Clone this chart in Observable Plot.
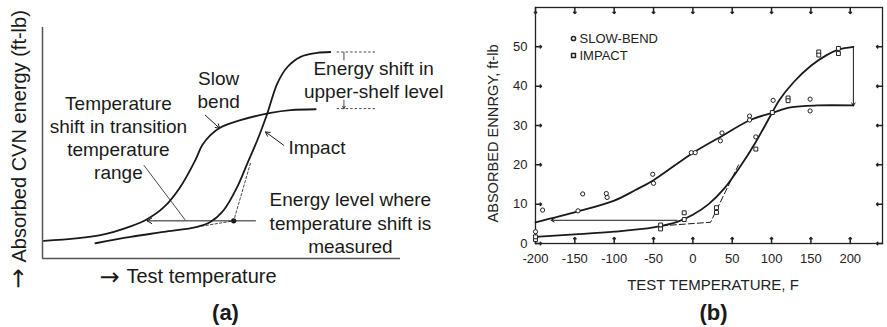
<!DOCTYPE html>
<html><head><meta charset="utf-8">
<script src="https://cdn.jsdelivr.net/npm/d3@7"></script>
<script src="https://cdn.jsdelivr.net/npm/@observablehq/plot@0.6"></script>
<style>
html,body{margin:0;padding:0;background:#fff;}
#wrap{position:relative;width:887px;height:327px;overflow:hidden;font-family:"Liberation Sans",Arial,sans-serif;}
#a,#b{position:absolute;top:0;}
#a{left:0;} #b{left:460px;}
svg{overflow:visible;}
</style></head><body>
<div id="wrap"><div id="a"></div><div id="b"></div></div>
<script>
// ---------- Panel (a): schematic (arbitrary units 0–100) ----------
const aSlowX   = [0.4, 16.2, 24.6, 29.2, 33.9, 38.5, 42.7, 44.6, 46.9, 49.7, 55.3, 63.7, 69.3, 76.3];
const aSlowY   = [7.6, 10.1, 13.9, 17.0, 22.2, 31.0, 42.6, 49.0, 53.4, 56.7, 59.9, 63.0, 64.2, 64.6];
const aImpactX = [14.8, 24.6, 33.9, 43.2, 46.9, 50.6, 54.4, 57.2, 60.0, 62.8, 65.6, 68.4, 72.1, 76.7, 80.4];
const aImpactY = [6.6, 9.4, 11.5, 13.7, 15.8, 20.9, 31.0, 41.1, 51.2, 62.8, 75.8, 82.9, 87.3, 89.0, 89.4];
const aTangentX = [43.2, 53.4, 58.1];
const aTangentY = [13.7, 16.3, 41.3];
const aMeasureX = [53.4];           // energy level point
const aMeasureY = [16.3];
const aShiftFromX = 59.5, aShiftToX = 29.2, aShiftY = 16.3;
const aShelfX = [82.3, 93.0];
const aShelfY = [89.4, 64.9];
const aLabelText = ["Slow\nbend", "Temperature\nshift in transition\ntemperature\nrange", "Impact",
                    "Energy shift in\nupper-shelf level", "Energy level where\ntemperature shift is\nmeasured"];
const aLabelX = [49.2, 21.2, 68.7, 92.5, 86.0];
const aLabelY = [73.5, 52.5, 47.7, 77.8, 15.7];
const aLabelAnchor = ["middle", "middle", "start", "middle", "middle"];
const aPointers = [ // from label to curve
  {x1: 45.5, y1: 62.0, x2: 49.5, y2: 56.3},
  {x1: 67.4, y1: 49.0, x2: 62.3, y2: 54.8}
];
const aLeader = [{x1: 28.3, y1: 40.4, x2: 39.9, y2: 16.6}];
const aAxisArrow = "→";
const aXLabel = "Test temperature";
const aYLabel = "Absorbed CVN energy (ft-lb)";
const aTag = "(a)";

// ---------- Panel (b): measured data ----------
const bSlowCurveT   = [-200, -147, -100, -73, -50, -1, 35, 73, 102, 124, 158, 204];
const bSlowCurveE   = [5.4, 8.1, 10.9, 13.6, 16.1, 22.9, 27.1, 31.4, 33.3, 34.6, 35.1, 35.1];
const bImpactCurveT = [-200, -150, -100, -50, -20, 0, 20, 40, 60, 80, 100, 110, 128, 150, 170, 185, 204];
const bImpactCurveE = [1.7, 2.3, 3.0, 4.1, 5.5, 7.3, 10.0, 14.0, 19.5, 25.8, 33.0, 36.5, 41.0, 45.2, 47.9, 49.3, 50.0];
const bDashT = [-40, 22.5, 58];
const bDashE = [4.5, 5.4, 20];
const bSlowT = [-200, -191, -146, -140, -110, -109, -51, -50, -2, 3, 37, 35, 72, 72, 80, 102, 149, 149];
const bSlowE = [3.0, 8.5, 8.3, 12.6, 12.7, 11.7, 17.6, 15.3, 23.1, 23.1, 28.1, 26.1, 32.4, 31.4, 27.1, 36.4, 36.7, 33.7];
const bImpactT = [-200, -200, -41, -41, -11, -11, 30, 30, 80, 101, 121, 121, 160, 160, 185, 185];
const bImpactE = [1.0, 1.7, 4.7, 3.7, 7.8, 6.1, 9.1, 7.9, 24.0, 33.3, 37.0, 36.3, 48.7, 47.9, 49.6, 48.3];
const bTempShift  = {t1: -20, t2: -180, e: 5.9};
const bShelfShift = {t: 204, e1: 50, e2: 35};
const bXTicks = [-200, -150, -100, -50, 0, 50, 100, 150, 200];
const bYTicks = [0, 10, 20, 30, 40, 50];
const bLegend = ["SLOW-BEND", "IMPACT"];
const bXLabel = "TEST TEMPERATURE, F";
const bYLabel = "ABSORBED ENNRGY, ft-lb";
const bTag = "(b)";

const FONT = "'Liberation Sans', Arial, Helvetica, sans-serif";
const ARROWFONT = "'DejaVu Sans', sans-serif";
const INK = "#1a1a1a";
const zip = (xs, ys) => xs.map((x, i) => ({x, y: ys[i]}));

// ---------- build panel (a) ----------
const aLabels = aLabelText.map((t, i) => ({t, x: aLabelX[i], y: aLabelY[i], a: aLabelAnchor[i]}));
const plotA = Plot.plot({
  width: 460, height: 327,
  marginLeft: 42, marginRight: 60, marginTop: 27, marginBottom: 69,
  x: {domain: [0, 100], axis: null},
  y: {domain: [0, 100], axis: null},
  style: {fontFamily: FONT, background: "transparent", overflow: "visible", color: INK},
  marks: [
    Plot.ruleX([0], {stroke: "#555", strokeWidth: 1.5}),
    Plot.ruleY([0], {stroke: "#555", strokeWidth: 1.5}),
    Plot.line(zip(aTangentX, aTangentY), {x: "x", y: "y", stroke: INK, strokeWidth: 0.8, strokeDasharray: "2.5,2"}),
    Plot.line(zip(aSlowX, aSlowY), {x: "x", y: "y", curve: "catmull-rom", stroke: INK, strokeWidth: 1.8}),
    Plot.line(zip(aImpactX, aImpactY), {x: "x", y: "y", curve: "catmull-rom", stroke: INK, strokeWidth: 1.8}),
    Plot.arrow([{x1: aShiftFromX, x2: aShiftToX, y: aShiftY}], {x1: "x1", x2: "x2", y1: "y", y2: "y", stroke: INK, strokeWidth: 1, headLength: 8}),
    Plot.dot(zip(aMeasureX, aMeasureY), {x: "x", y: "y", r: 2.6, fill: INK, stroke: null}),
    Plot.link(aLeader, {x1: "x1", y1: "y1", x2: "x2", y2: "y2", stroke: INK, strokeWidth: 0.8}),
    Plot.arrow(aPointers, {x1: "x1", y1: "y1", x2: "x2", y2: "y2", stroke: INK, strokeWidth: 1, headLength: 7}),
    Plot.ruleY(aShelfY, {x1: aShelfX[0], x2: aShelfX[1], y: d => d, stroke: INK, strokeWidth: 0.8, strokeDasharray: "2.5,2"}),
    Plot.link([{x: 84.2, y1: aShelfY[0], y2: 85.8}], {x1: "x", x2: "x", y1: "y1", y2: "y2", stroke: INK, strokeWidth: 0.8}),
    Plot.arrow([{x: 84.2, y1: 68.6, y2: aShelfY[1]}], {x1: "x", x2: "x", y1: "y1", y2: "y2", stroke: INK, strokeWidth: 0.8, headLength: 5}),
    Plot.text(aLabels.filter(d => d.a === "middle"), {x: "x", y: "y", text: "t", textAnchor: "middle", fontSize: 19, lineHeight: 1.22, fill: INK}),
    Plot.text(aLabels.filter(d => d.a === "start"), {x: "x", y: "y", text: "t", textAnchor: "start", fontSize: 19, fill: INK}),
    // x-axis label: arrow + text
    Plot.text([aAxisArrow], {text: d => d, frameAnchor: "bottom-left", lineAnchor: "middle", textAnchor: "start", dx: 57, dy: 19, fontSize: 24, fontFamily: ARROWFONT, fill: INK}),
    Plot.text([aXLabel], {text: d => d, frameAnchor: "bottom-left", lineAnchor: "middle", textAnchor: "start", dx: 84, dy: 18, fontSize: 20, fill: INK}),
    // y-axis label: arrow + text, rotated
    Plot.text([aAxisArrow], {text: d => d, frameAnchor: "bottom-left", lineAnchor: "middle", textAnchor: "start", rotate: -90, dx: -24, dy: 30, fontSize: 24, fontFamily: ARROWFONT, fill: INK}),
    Plot.text([aYLabel], {text: d => d, frameAnchor: "bottom-left", lineAnchor: "middle", textAnchor: "start", rotate: -90, dx: -23, dy: 4, fontSize: 20, fill: INK}),
    Plot.text([aTag], {text: d => d, frameAnchor: "bottom", lineAnchor: "middle", textAnchor: "middle", dx: 4, dy: 54, fontSize: 22, fontWeight: "bold", fill: INK})
  ]
});
document.getElementById("a").appendChild(plotA);

// ---------- build panel (b) ----------
const plotB = Plot.plot({
  width: 427, height: 327,
  marginLeft: 75, marginRight: 5, marginTop: 7, marginBottom: 84,
  x: {domain: [-200, 241]},
  y: {domain: [0, 60]},
  style: {fontFamily: FONT, background: "transparent", overflow: "visible", color: "#222"},
  marks: [
    Plot.frame({stroke: "#222", strokeWidth: 1.3}),
    Plot.axisX({ticks: bXTicks, tickSize: 0, tickPadding: 10, tickFormat: d => String(d), fontSize: 13, label: null}),
    Plot.axisY({ticks: bYTicks, tickSize: 0, tickPadding: 8, tickFormat: d => String(d), fontSize: 13, label: null}),
    Plot.vectorX(bXTicks, {x: d => d, frameAnchor: "bottom", length: 6, rotate: 0, anchor: "start", stroke: "#222"}),
    Plot.vectorX(bXTicks, {x: d => d, frameAnchor: "top", length: 6, rotate: 180, anchor: "start", stroke: "#222"}),
    Plot.vectorY(bYTicks, {y: d => d, frameAnchor: "left", length: 6, rotate: 90, anchor: "start", stroke: "#222"}),
    Plot.vectorY(bYTicks, {y: d => d, frameAnchor: "right", length: 6, rotate: -90, anchor: "start", stroke: "#222"}),
    Plot.line(zip(bDashT, bDashE), {x: "x", y: "y", stroke: INK, strokeWidth: 1, strokeDasharray: "6,3"}),
    Plot.line(zip(bSlowCurveT, bSlowCurveE), {x: "x", y: "y", curve: "catmull-rom", stroke: INK, strokeWidth: 1.8}),
    Plot.line(zip(bImpactCurveT, bImpactCurveE), {x: "x", y: "y", curve: "catmull-rom", stroke: INK, strokeWidth: 1.8}),
    Plot.arrow([bTempShift], {x1: "t1", x2: "t2", y1: "e", y2: "e", stroke: INK, strokeWidth: 1, headLength: 5}),
    Plot.arrow([bShelfShift], {x1: "t", x2: "t", y1: "e1", y2: "e2", stroke: INK, strokeWidth: 1, headLength: 5}),
    Plot.dot(zip(bSlowT, bSlowE), {x: "x", y: "y", symbol: "circle", r: 2.1, stroke: "#222", fill: "white", strokeWidth: 1}),
    Plot.dot(zip(bImpactT, bImpactE), {x: "x", y: "y", symbol: "square", r: 2.2, stroke: "#222", fill: "white", strokeWidth: 1}),
    Plot.dot([bLegend[0]], {frameAnchor: "top-left", dx: 38, dy: 31, symbol: "circle", r: 2.1, stroke: "#222", fill: "white"}),
    Plot.dot([bLegend[1]], {frameAnchor: "top-left", dx: 38, dy: 48, symbol: "square", r: 2.2, stroke: "#222", fill: "white"}),
    Plot.text([bLegend[0]], {text: d => d, frameAnchor: "top-left", textAnchor: "start", lineAnchor: "middle", dx: 44, dy: 31, fontSize: 13, fill: "#222"}),
    Plot.text([bLegend[1]], {text: d => d, frameAnchor: "top-left", textAnchor: "start", lineAnchor: "middle", dx: 44, dy: 48, fontSize: 13, fill: "#222"}),
    Plot.text([bXLabel], {text: d => d, frameAnchor: "bottom", textAnchor: "middle", lineAnchor: "middle", dx: 4, dy: 41.5, fontSize: 15, fill: "#222"}),
    Plot.text([bYLabel], {text: d => d, frameAnchor: "left", textAnchor: "middle", lineAnchor: "middle", rotate: -90, dx: -42, dy: 8, fontSize: 14.6, fill: "#222"}),
    Plot.text([bTag], {text: d => d, frameAnchor: "bottom", textAnchor: "middle", lineAnchor: "middle", dx: 4.5, dy: 69.5, fontSize: 22, fontWeight: "bold", fill: INK})
  ]
});
document.getElementById("b").appendChild(plotB);
</script>
</body></html>
